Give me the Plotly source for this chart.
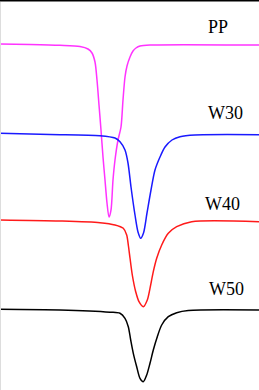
import plotly.graph_objects as go

# Temperature axis (arbitrary units) and heat-flow values (offset curves)
pp_x = [0, 30, 60, 80, 88, 92, 95, 97, 99, 101, 103, 105, 107, 109, 111, 113, 115, 118, 121, 123, 125, 127, 130, 133, 136, 140, 150, 259]
pp_y = [44, 44.5, 45.3, 46.5, 49, 53, 62, 80, 105, 130, 157, 180, 203, 217, 210, 180, 160, 140, 127, 100, 77, 66, 57, 51, 48, 46, 45, 45]

w30_x = [0, 50, 100, 115, 120, 125, 128, 131, 135, 138, 140.7, 143.5, 147, 151, 155, 160, 165, 172, 180, 195, 259]
w30_y = [133.3, 134.5, 135.7, 138, 141.7, 150, 163, 187, 215, 232, 238.3, 233, 213, 190, 170, 157, 147, 140, 136.7, 135, 134.7]

w40_x = [0, 60, 100, 115, 123.3, 126.7, 128.3, 130, 132.3, 135.7, 139, 143.3, 147.3, 150, 153.3, 156.7, 161.7, 168.3, 176.7, 191.7, 259]
w40_y = [220, 221, 222.7, 225, 228.3, 235, 245, 258, 275, 291.7, 301.7, 306.7, 300, 288.3, 271.7, 258.3, 245, 233.3, 226.7, 221.7, 221.7]

w50_x = [0, 60, 110, 120, 125, 128.3, 130.7, 133.3, 136.7, 140, 143.3, 146.7, 150, 153.3, 157.3, 161.7, 168.3, 176.7, 188.3, 259]
w50_y = [309.3, 310, 312.2, 313.3, 318.3, 326.7, 340, 353.3, 366.7, 378.3, 381.7, 375, 363.3, 350, 336.7, 325, 316.7, 312.7, 310.5, 310]

labels = ["PP", "W30", "W40", "W50"]
label_x = [218, 225, 222, 226]
label_y = [27, 113, 204, 289]

series = [(pp_x, pp_y, "#ff33ff"), (w30_x, w30_y, "#1a1aff"),
          (w40_x, w40_y, "#ff1a1a"), (w50_x, w50_y, "#000000")]

fig = go.Figure()
for (xs, ys, c), name in zip(series, labels):
    fig.add_trace(go.Scatter(x=xs, y=ys, mode="lines", name=name,
                             line=dict(color=c, width=1.5, shape="spline", smoothing=0.8)))

for t, lx, ly in zip(labels, label_x, label_y):
    fig.add_annotation(x=lx, y=ly, text=t, showarrow=False,
                       font=dict(family="Liberation Serif, Times New Roman, serif", size=18, color="black"))

fig.add_shape(type="line", x0=0, x1=259, y0=0.75, y1=0.75, line=dict(color="black", width=1.5))
fig.add_shape(type="line", x0=0.5, x1=0.5, y0=2, y1=390, line=dict(color="#dddddd", width=1))

fig.update_layout(width=259, height=390, margin=dict(l=0, r=0, t=0, b=0),
                  paper_bgcolor="white", plot_bgcolor="white", showlegend=False,
                  xaxis=dict(range=[0, 259], visible=False),
                  yaxis=dict(range=[390, 0], visible=False))
fig.write_html("out.html")
